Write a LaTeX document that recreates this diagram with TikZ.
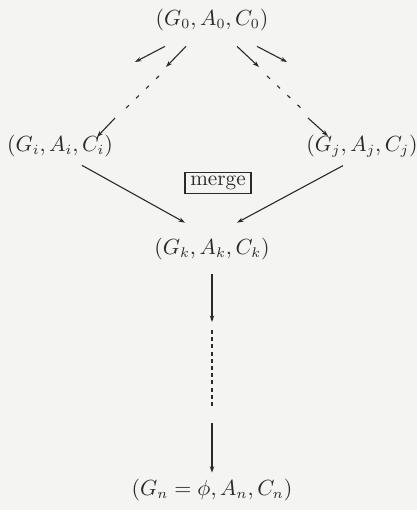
\documentclass[tikz,border=0pt]{standalone}
\usetikzlibrary{arrows.meta}
\definecolor{paper}{HTML}{F4F4F2}
\definecolor{ink}{HTML}{2A2A2A}
\begin{document}
\begin{tikzpicture}[x=0.5pt,y=-0.5pt,
  every node/.style={font=\fontsize{10.6}{12.5}\selectfont, text=ink, inner sep=0pt},
  conn/.style={draw=ink, line width=0.55pt},
  arr/.style={conn, -{Stealth[length=3.2pt,width=2.2pt]}},
  dia/.style={conn, dash pattern=on 2pt off 5pt},
  vert/.style={conn, dash pattern=on 2pt off 1.6pt},
  mbox/.style={draw=ink, line width=0.55pt, minimum width=33pt, minimum height=10.5pt}]
\fill[paper] (0,0) rectangle (417,510);
\useasboundingbox (0,0) rectangle (417,510);
% nodes
\node (t) at (212,20) {$(G_0, A_0, C_0)$};
\node (i) at (60,146) {$(G_i, A_i, C_i)$};
\node (j) at (362,146) {$(G_j, A_j, C_j)$};
\node[mbox] (m) at (218,183) {merge};
\node (k) at (212,249) {$(G_k, A_k, C_k)$};
\node (n) at (212,490) {$(G_n = \phi, A_n, C_n)$};
% free ends
\coordinate (lo) at (135,62);
\coordinate (li) at (166,67);
\coordinate (ri) at (259,67);
\coordinate (ro) at (287,62);
\coordinate (ld1) at (159,76);
\coordinate (ld2) at (124,110);
\coordinate (rd1) at (267,76);
\coordinate (rd2) at (303,110);
\coordinate (ls) at (115,118);
\coordinate (le) at (97,137);
\coordinate (rs) at (308,118);
\coordinate (re) at (328,136);
\coordinate (v1) at (212,322);
\coordinate (v2) at (212,330);
\coordinate (v3) at (212,409);
\coordinate (v4) at (212,423);
% connectors
\draw[arr] ([shift={(-47,15)}]t.south) -- (lo);
\draw[arr] ([shift={(-26,15)}]t.south) -- (li);
\draw[arr] ([shift={(25,15)}]t.south) -- (ri);
\draw[arr] ([shift={(45,15)}]t.south) -- (ro);
\draw[dia] (ld1) -- (ld2);
\draw[dia] (rd1) -- (rd2);
\draw[arr] (ls) -- (le);
\draw[arr] (rs) -- (re);
\draw[arr] ([shift={(22,8)}]i.south) -- ([shift={(-27,-15)}]k.north);
\draw[arr] ([shift={(-19,8)}]j.south) -- ([shift={(25,-15)}]k.north);
\draw[arr] ([shift={(0,14)}]k.south) -- (v1);
\draw[vert] (v2) -- (v3);
\draw[arr] (v4) -- ([shift={(0,-6)}]n.north);
\end{tikzpicture}
\end{document}
